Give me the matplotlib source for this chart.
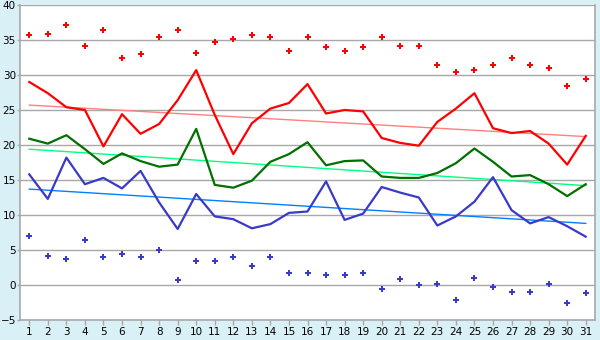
#!/usr/bin/env python3
"""Three daily series with min/max markers and linear trend lines."""

import matplotlib
matplotlib.use("Agg")
import matplotlib.pyplot as plt

days = list(range(1, 32))

red_line = [29.0, 27.4, 25.4, 25.0, 19.8, 24.4, 21.6, 23.0, 26.4, 30.7,
            24.3, 18.7, 23.1, 25.2, 26.0, 28.7, 24.5, 25.0, 24.8, 21.0,
            20.3, 19.9, 23.3, 25.2, 27.4, 22.4, 21.7, 22.0, 20.2, 17.2, 21.3]
green_line = [20.9, 20.2, 21.4, 19.4, 17.3, 18.8, 17.7, 16.9, 17.2, 22.3,
              14.3, 13.9, 14.9, 17.6, 18.7, 20.4, 17.1, 17.7, 17.8, 15.5,
              15.3, 15.3, 16.0, 17.4, 19.5, 17.6, 15.5, 15.7, 14.4, 12.7, 14.4]
blue_line = [15.8, 12.3, 18.2, 14.4, 15.3, 13.8, 16.3, 11.8, 8.0, 13.0,
             9.8, 9.4, 8.1, 8.7, 10.3, 10.5, 14.8, 9.3, 10.2, 14.0,
             13.2, 12.5, 8.5, 9.8, 11.9, 15.4, 10.7, 8.8, 9.7, 8.4, 6.9]
red_points = [35.7, 35.8, 37.1, 34.1, 36.4, 32.5, 33.0, 35.4, 36.4, 33.2,
              34.7, 35.2, 35.7, 35.4, 33.5, 35.4, 34.0, 33.5, 34.0, 35.4,
              34.2, 34.1, 31.5, 30.4, 30.7, 31.4, 32.4, 31.5, 31.0, 28.4, 29.4]
blue_points = [6.95, 4.1, 3.7, 6.4, 4.0, 4.4, 4.0, 5.0, 0.7, 3.4,
               3.4, 4.0, 2.7, 4.0, 1.7, 1.7, 1.5, 1.4, 1.7, -0.5,
               0.8, 0.0, 0.2, -2.2, 1.0, -0.3, -1.0, -1.0, 0.1, -2.6, -1.2]

# trendline values at day 1 and day 31
red_trend = [25.7, 21.2]
green_trend = [19.4, 14.2]
blue_trend = [13.7, 8.8]

y_ticks = list(range(-5, 45, 5))


def main():
    plt.rcParams["font.family"] = ["DejaVu Sans"]
    fig = plt.figure(figsize=(6.0, 3.4), dpi=100, facecolor="#daf0f7")
    ax = fig.add_axes([20 / 600, 1 - 320 / 340, 575 / 600, 315 / 340])
    ax.set_facecolor("white")

    ends = [days[0], days[-1]]
    ax.plot(ends, red_trend, color="#ff8080", lw=1.0, zorder=2)
    ax.plot(ends, green_trend, color="#00ff80", lw=1.0, zorder=2)
    ax.plot(ends, blue_trend, color="#0080ff", lw=1.0, zorder=2)

    ax.plot(days, red_line, color="#ff0000", lw=1.6, zorder=3)
    ax.plot(days, green_line, color="#007000", lw=1.6, zorder=3)
    ax.plot(days, blue_line, color="#3a3ac8", lw=1.6, zorder=3)

    ax.plot(days, red_points, ls="none", marker="P", ms=5, mew=0,
            color="#ff0000", zorder=4)
    ax.plot(days, blue_points, ls="none", marker="P", ms=5, mew=0,
            color="#3a3ac8", zorder=4)

    ax.set_xlim(0.5, 31.5)
    ax.set_ylim(-5, 40)
    ax.set_xticks(days)
    ax.set_yticks(y_ticks)
    ax.grid(axis="y", color="#a8a8a8", lw=1.0)
    ax.set_axisbelow(True)
    for side in ("left", "right", "bottom"):
        ax.spines[side].set_color("#a8a8a8")
        ax.spines[side].set_linewidth(1.2)
    ax.spines["top"].set_visible(False)
    ax.tick_params(axis="both", colors="#a8a8a8", labelcolor="black",
                   labelsize=7.5, width=1.0)
    ax.tick_params(axis="y", length=2, pad=1)
    ax.tick_params(axis="x", length=3.5, pad=1.5)

    fig.savefig("out.png", dpi=100, facecolor=fig.get_facecolor())
    plt.close(fig)


if __name__ == "__main__":
    main()
